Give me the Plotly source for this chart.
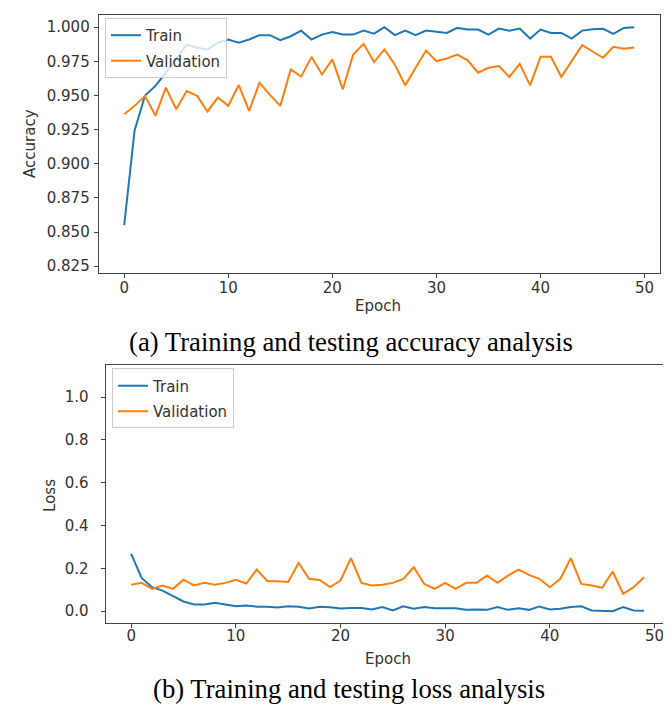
import plotly.graph_objects as go

epochs = list(range(50))

acc_train = [0.855, 0.9244, 0.950, 0.957, 0.9667, 0.977, 0.9873, 0.985, 0.9837, 0.9886,
             0.991, 0.9886, 0.991, 0.9942, 0.9942, 0.9905, 0.9934, 0.9975, 0.991, 0.9946,
             0.9964, 0.9946, 0.9946, 0.9975, 0.9953, 1.000, 0.9942, 0.9975, 0.9942, 0.9975,
             0.9964, 0.9958, 0.9995, 0.9983, 0.9983, 0.9946, 0.999, 0.9975, 0.999, 0.9917,
             0.9983, 0.9958, 0.9958, 0.9917, 0.9975, 0.9985, 0.9988, 0.9951, 0.9995, 1.000]

acc_val = [0.9363, 0.9424, 0.9497, 0.9351, 0.9558, 0.9399, 0.9533, 0.9497, 0.9383, 0.9485,
           0.9424, 0.9577, 0.9388, 0.9594, 0.9504, 0.9424, 0.9691, 0.9638, 0.9783, 0.9654,
           0.9764, 0.9545, 0.980, 0.9878, 0.9745, 0.9837, 0.9727, 0.9574, 0.9703, 0.9829,
           0.9752, 0.9771, 0.980, 0.9757, 0.9667, 0.9703, 0.9716, 0.9636, 0.9732, 0.9574,
           0.9783, 0.9783, 0.9636, 0.9752, 0.9869, 0.9822, 0.9776, 0.9856, 0.9842, 0.9851]

loss_train = [0.267, 0.155, 0.112, 0.096, 0.070, 0.045, 0.031, 0.031, 0.039, 0.030,
              0.023, 0.026, 0.021, 0.020, 0.017, 0.023, 0.020, 0.012, 0.021, 0.018,
              0.012, 0.015, 0.015, 0.008, 0.019, 0.003, 0.023, 0.011, 0.019, 0.014,
              0.014, 0.014, 0.006, 0.008, 0.006, 0.019, 0.006, 0.014, 0.006, 0.022,
              0.008, 0.011, 0.019, 0.023, 0.003, 0.003, 0.000, 0.019, 0.003, 0.002]

loss_val = [0.123, 0.132, 0.104, 0.120, 0.104, 0.147, 0.120, 0.132, 0.123, 0.132,
            0.146, 0.129, 0.194, 0.141, 0.140, 0.136, 0.225, 0.151, 0.146, 0.112,
            0.143, 0.247, 0.132, 0.120, 0.123, 0.132, 0.151, 0.205, 0.127, 0.104,
            0.132, 0.104, 0.132, 0.132, 0.166, 0.132, 0.166, 0.194, 0.169, 0.151,
            0.112, 0.151, 0.247, 0.127, 0.120, 0.109, 0.185, 0.081, 0.112, 0.158]

acc_ticks = [0.825, 0.850, 0.875, 0.900, 0.925, 0.950, 0.975, 1.000]
loss_ticks = [0.0, 0.2, 0.4, 0.6, 0.8, 1.0]
epoch_ticks = [0, 10, 20, 30, 40, 50]

BLUE = "#1f77b4"
ORANGE = "#ff7f0e"
FONT = "DejaVu Sans"
TXT = "#333333"
W, H = 671, 708

fig = go.Figure()
fig.add_trace(go.Scatter(x=epochs, y=acc_train, mode="lines", name="Train", legendgroup="a1",
                         line=dict(color=BLUE, width=2), xaxis="x", yaxis="y", legend="legend"))
fig.add_trace(go.Scatter(x=epochs, y=acc_val, mode="lines", name="Validation", legendgroup="a2",
                         line=dict(color=ORANGE, width=2), xaxis="x", yaxis="y", legend="legend"))
fig.add_trace(go.Scatter(x=epochs, y=loss_train, mode="lines", name="Train", legendgroup="b1",
                         line=dict(color=BLUE, width=2), xaxis="x2", yaxis="y2", legend="legend2"))
fig.add_trace(go.Scatter(x=epochs, y=loss_val, mode="lines", name="Validation", legendgroup="b2",
                         line=dict(color=ORANGE, width=2), xaxis="x2", yaxis="y2", legend="legend2"))

axis_common = dict(showline=True, mirror=True, linecolor="#444444", linewidth=1,
                   ticks="outside", ticklen=4, tickwidth=1, tickcolor="#444444",
                   showgrid=False, zeroline=False,
                   tickfont=dict(family=FONT, size=15, color=TXT))

def px_x(p):
    return p / W

def px_y(p):
    return 1 - p / H

legend_common = dict(xanchor="left", yanchor="top",
                     bgcolor="rgba(255,255,255,0.8)", bordercolor="#cccccc", borderwidth=1,
                     font=dict(family=FONT, size=15, color=TXT), tracegroupgap=3)

fig.update_layout(
    width=W, height=H,
    margin=dict(l=0, r=0, t=0, b=0),
    paper_bgcolor="white", plot_bgcolor="white",
    font=dict(family=FONT, size=15, color=TXT),
    xaxis=dict(domain=[px_x(90.7), px_x(651.7)], anchor="y", range=[-2.45, 51.45],
               tickvals=epoch_ticks, ticklabelstandoff=-3, **axis_common),
    yaxis=dict(domain=[px_y(265.7), px_y(7.3)], anchor="x", range=[0.8203, 1.00875],
               tickvals=acc_ticks, tickformat=".3f", ticklabelstandoff=1, **axis_common),
    xaxis2=dict(domain=[px_x(97.5), px_x(661.7)], anchor="y2", range=[-2.45, 51.45],
                tickvals=epoch_ticks, ticklabelstandoff=-5, **axis_common),
    yaxis2=dict(domain=[px_y(618), px_y(358.3)], anchor="x2", range=[-0.0572, 1.1507],
                tickvals=loss_ticks, tickformat=".1f", ticklabelstandoff=9, **axis_common),
    legend=dict(x=px_x(97), y=px_y(10), **legend_common),
    legend2=dict(x=px_x(104), y=px_y(362), **legend_common),
    showlegend=True,
)

def ann(text, x, y, size=15, family=FONT, color=TXT, angle=0):
    return dict(text=text, x=px_x(x), y=px_y(y), xref="paper", yref="paper",
                xanchor="center", yanchor="middle", textangle=angle, showarrow=False,
                font=dict(family=family, size=size, color=color))

annotations = [
    ann("Epoch", 370, 299),
    ann("Epoch", 380, 654),
    ann("Accuracy", 22, 136.5, angle=-90),
    ann("Loss", 42, 490, angle=-90),
    ann("(a) Training and testing accuracy analysis", 343, 335,
        size=26.7, family="Liberation Serif", color="#000000"),
    ann("(b) Training and testing loss analysis", 341, 684,
        size=26.7, family="Liberation Serif", color="#000000"),
]
fig.update_layout(annotations=annotations)

fig.write_html("out.html")
